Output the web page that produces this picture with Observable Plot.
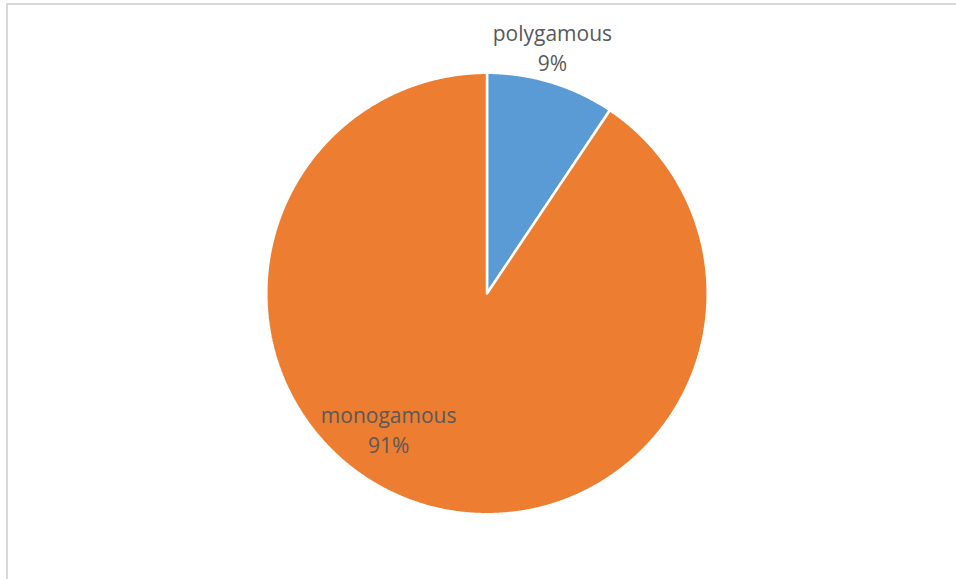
<!DOCTYPE html>
<html>
<head>
<meta charset="utf-8">
<script src="https://cdn.jsdelivr.net/npm/d3@7"></script>
<script src="https://cdn.jsdelivr.net/npm/@observablehq/plot@0.6"></script>
<style>
  html, body { margin: 0; padding: 0; background: #fff; }
  #wrap { position: relative; width: 956px; height: 579px; overflow: hidden; }
  #frame { position: absolute; left: 6px; top: 3px; width: 1000px; height: 1000px;
           border-top: 2px solid #d9d9d9; border-left: 2px solid #d9d9d9; box-sizing: border-box; }
  #chart { position: absolute; left: 0; top: 0; }
</style>
</head>
<body>
<div id="wrap"><div id="frame"></div><div id="chart"></div></div>
<script>
// Data
const categories = ["polygamous", "monogamous"];
const values = [9.4, 90.6];
const colors = ["#5B9BD5", "#ED7D31"];
// Label placement (polar, degrees clockwise from 12 o'clock; radius as fraction of pie radius)
const labelAngles = [14.8, 216.0];
const labelRadii = [1.16, 0.758];

const pie = d3.pie().sort(null).value(d => d.value)(
  categories.map((c, i) => ({name: c, value: values[i]}))
);

// Build slice outlines in unit coordinates from the pie angles
const slicePts = [];
pie.forEach(s => {
  const n = Math.max(2, Math.ceil((s.endAngle - s.startAngle) / (Math.PI / 720)));
  slicePts.push({name: s.data.name, x: 0, y: 0});
  for (let k = 0; k <= n; k++) {
    const a = s.startAngle + (s.endAngle - s.startAngle) * k / n;
    slicePts.push({name: s.data.name, x: Math.sin(a), y: Math.cos(a)});
  }
  slicePts.push({name: s.data.name, x: 0, y: 0});
});

const total = d3.sum(values);
const labels = pie.map((s, i) => {
  const a = labelAngles[i] * Math.PI / 180;
  return {
    name: s.data.name,
    text: s.data.name + "\n" + Math.round(100 * s.data.value / total) + "%",
    x: labelRadii[i] * Math.sin(a),
    y: labelRadii[i] * Math.cos(a)
  };
});

const chart = Plot.plot({
  width: 956,
  height: 579,
  marginLeft: 265.8,
  marginRight: 248.8,
  marginTop: 72.3,
  marginBottom: 65.3,
  x: {domain: [-1, 1], axis: null},
  y: {domain: [-1, 1], axis: null},
  color: {domain: categories, range: colors},
  style: {background: "transparent", overflow: "visible"},
  marks: [
    Plot.line(slicePts, {x: "x", y: "y", z: "name", fill: "name", stroke: "white",
      strokeWidth: 2.5, strokeLinejoin: "miter", curve: "linear"}),
    Plot.text(labels, {x: "x", y: "y", text: "text", fill: "#595959",
      fontSize: 21, lineHeight: 1.43, lineAnchor: "middle", textAnchor: "middle",
      fontFamily: "'Open Sans', 'Noto Sans', sans-serif"})
  ]
});
document.getElementById("chart").appendChild(chart);
</script>
</body>
</html>
